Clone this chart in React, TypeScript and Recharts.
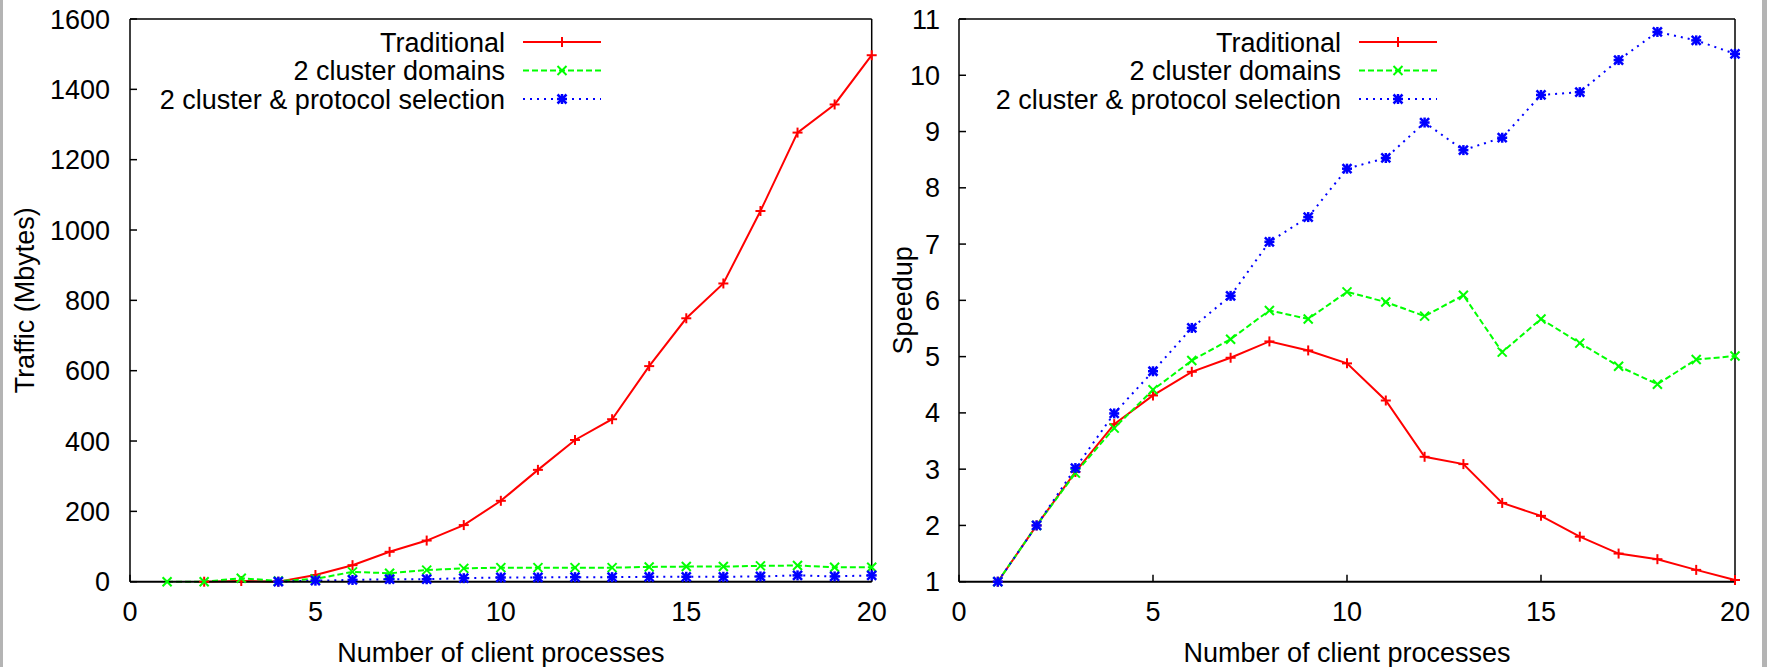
import React from "react";
import { LineChart, Line, XAxis, YAxis, Legend, Label } from "recharts";

// number of client processes
const processes = [1, 2, 3, 4, 5, 6, 7, 8, 9, 10, 11, 12, 13, 14, 15, 16, 17, 18, 19, 20];

// traffic in Mbytes
const trafficTraditional = [null, 0, 2, 0, 19, 47, 85, 117, 161, 230, 318, 403, 462, 613, 749, 848, 1054, 1277, 1357, 1497];
const trafficClusterDomains = [0, 0, 10, 2, 8, 28, 24, 33, 38, 40, 40, 40, 40, 42, 43, 43, 45, 46, 41, 41];
const trafficProtocolSelection = [null, null, null, 0, 3, 5, 7, 7, 10, 12, 12, 13, 13, 14, 14, 14, 15, 18, 15, 18];

// speedup
const speedupTraditional = [1, 2, 2.95, 3.8, 4.31, 4.73, 4.98, 5.27, 5.11, 4.88, 4.22, 3.22, 3.09, 2.4, 2.17, 1.8, 1.5, 1.4, 1.21, 1.03];
const speedupClusterDomains = [1, 2, 2.93, 3.73, 4.41, 4.93, 5.31, 5.82, 5.67, 6.15, 5.97, 5.72, 6.09, 5.08, 5.67, 5.24, 4.83, 4.51, 4.95, 5.01];
const speedupProtocolSelection = [1, 2, 3.02, 3.99, 4.74, 5.51, 6.08, 7.04, 7.48, 8.34, 8.53, 9.16, 8.67, 8.89, 9.65, 9.7, 10.27, 10.77, 10.62, 10.38];

const xTicks = [0, 5, 10, 15, 20];
const trafficTicks = [0, 200, 400, 600, 800, 1000, 1200, 1400, 1600];
const speedupTicks = [1, 2, 3, 4, 5, 6, 7, 8, 9, 10, 11];
const seriesNames = ["Traditional", "2 cluster domains", "2 cluster & protocol selection"];

const FONT = "'Liberation Sans', Arial, Helvetica, sans-serif";
const FS = 27;

type MarkerKind = "plus" | "cross" | "star";

const styles: { key: string; color: string; dash?: string; marker: MarkerKind }[] = [
  { key: "a", color: "#ff0000", marker: "plus" },
  { key: "b", color: "#00ff00", dash: "6 3", marker: "cross" },
  { key: "c", color: "#0000ff", dash: "2 5", marker: "star" },
];

const buildRows = (a: (number | null)[], b: (number | null)[], c: (number | null)[]) =>
  processes.map((x, i) => ({ x, a: a[i], b: b[i], c: c[i] }));

const trafficData = buildRows(trafficTraditional, trafficClusterDomains, trafficProtocolSelection);
const speedupData = buildRows(speedupTraditional, speedupClusterDomains, speedupProtocolSelection);

function Marker({ kind, cx, cy, color }: { kind: MarkerKind; cx: number; cy: number; color: string }) {
  const s = 5;
  const d = 4.5;
  return (
    <g stroke={color} strokeWidth={kind === "star" ? 2.5 : 2} fill="none">
      {kind !== "cross" && (
        <>
          <line x1={cx - s} y1={cy} x2={cx + s} y2={cy} />
          <line x1={cx} y1={cy - s} x2={cx} y2={cy + s} />
        </>
      )}
      {kind !== "plus" && (
        <>
          <line x1={cx - d} y1={cy - d} x2={cx + d} y2={cy + d} />
          <line x1={cx - d} y1={cy + d} x2={cx + d} y2={cy - d} />
        </>
      )}
    </g>
  );
}

const rowY = [42, 70.5, 99];

function LegendBox({ textRight, width }: { textRight: number; width: number }) {
  return (
    <svg width={width} height={120} style={{ display: "block", fontFamily: FONT }}>
      {styles.map((s, i) => (
        <g key={s.key}>
          <text x={textRight} y={rowY[i] + 9.5} textAnchor="end" fontSize={FS} fill="#000">
            {seriesNames[i]}
          </text>
          <line
            x1={textRight + 18}
            x2={textRight + 96}
            y1={rowY[i]}
            y2={rowY[i]}
            stroke={s.color}
            strokeWidth={2}
            strokeDasharray={s.dash}
          />
          <Marker kind={s.marker} cx={textRight + 57} cy={rowY[i]} color={s.color} />
        </g>
      ))}
    </svg>
  );
}

interface PanelProps {
  data: { x: number; a: number | null; b: number | null; c: number | null }[];
  left: number;
  width: number;
  rightMargin: number;
  axisWidth: number;
  yDomain: [number, number];
  yTicks: number[];
  yLabel: string;
  yLabelOffset: number;
  tickGap: number;
  legendRight: number;
}

function Panel(p: PanelProps) {
  const tickStyle = { fontSize: FS, fill: "#000", fontFamily: FONT };
  const axisLine = { stroke: "#000", strokeWidth: 1.5 };
  return (
    <div style={{ position: "absolute", left: p.left, top: 0 }}>
      <LineChart
        width={p.width}
        height={667}
        data={p.data}
        margin={{ top: 18, right: p.rightMargin, bottom: 0, left: 0 }}
      >
        <XAxis
          dataKey="x"
          type="number"
          domain={[0, 20]}
          ticks={xTicks}
          interval={0}
          height={85.3}
          tick={tickStyle}
          tickSize={-7}
          tickMargin={27}
          axisLine={{ stroke: "#000", strokeWidth: 2 }}
          tickLine={{ stroke: "#000", strokeWidth: 1.5 }}
        >
          <Label
            value="Number of client processes"
            position="insideBottom"
            offset={5}
            style={{ fontSize: FS, fill: "#000", fontFamily: FONT }}
          />
        </XAxis>
        <XAxis
          xAxisId="top"
          dataKey="x"
          type="number"
          orientation="top"
          domain={[0, 20]}
          ticks={xTicks}
          interval={0}
          height={1}
          tick={false}
          tickSize={-7}
          axisLine={axisLine}
          tickLine={{ stroke: "#000", strokeWidth: 1.5 }}
        />
        <YAxis
          type="number"
          domain={p.yDomain}
          ticks={p.yTicks}
          interval={0}
          width={p.axisWidth}
          tick={tickStyle}
          tickSize={-7}
          tickMargin={p.tickGap + 7}
          axisLine={axisLine}
          tickLine={{ stroke: "#000", strokeWidth: 1.5 }}
        >
          <Label
            value={p.yLabel}
            angle={-90}
            position="insideLeft"
            offset={p.yLabelOffset}
            style={{ fontSize: FS, fill: "#000", fontFamily: FONT, textAnchor: "middle" }}
          />
        </YAxis>
        <YAxis
          yAxisId="right"
          type="number"
          orientation="right"
          domain={p.yDomain}
          ticks={p.yTicks}
          interval={0}
          width={1}
          tick={false}
          tickSize={-7}
          axisLine={axisLine}
          tickLine={{ stroke: "#000", strokeWidth: 1.5 }}
        />
        <Legend
          layout="vertical"
          align="center"
          verticalAlign="middle"
          wrapperStyle={{ left: 0, top: 0, width: p.width, height: 120 }}
          content={() => <LegendBox textRight={p.legendRight} width={p.width} />}
        />
        {styles.map((s, i) => (
          <Line
            key={s.key}
            type="linear"
            dataKey={s.key}
            name={seriesNames[i]}
            stroke={s.color}
            strokeWidth={2}
            strokeDasharray={s.dash}
            isAnimationActive={false}
            dot={(d: any) =>
              d.cx == null || d.cy == null ? (
                <g key={`${s.key}-${d.index}`} />
              ) : (
                <Marker key={`${s.key}-${d.index}`} kind={s.marker} cx={d.cx} cy={d.cy} color={s.color} />
              )
            }
            activeDot={false}
          />
        ))}
      </LineChart>
    </div>
  );
}

export default function App() {
  return (
    <div
      style={{
        position: "absolute",
        left: 0,
        top: 0,
        width: 1768,
        height: 667,
        background: "#fff",
        fontFamily: FONT,
        overflow: "hidden",
      }}
    >
      <div style={{ position: "absolute", left: 0, top: 0, width: 3, height: 667, background: "#b4b4b4" }} />
      <div style={{ position: "absolute", left: 1762, top: 0, width: 5, height: 667, background: "#b4b4b4" }} />
      <Panel
        data={trafficData}
        left={0}
        width={905}
        rightMargin={32.3}
        axisWidth={130}
        yDomain={[0, 1600]}
        yTicks={trafficTicks}
        yLabel="Traffic (Mbytes)"
        yLabelOffset={24}
        tickGap={20}
        legendRight={505}
      />
      <Panel
        data={speedupData}
        left={880}
        width={882}
        rightMargin={26}
        axisWidth={79}
        yDomain={[1, 11]}
        yTicks={speedupTicks}
        yLabel="Speedup"
        yLabelOffset={22}
        tickGap={19}
        legendRight={461}
      />
    </div>
  );
}
